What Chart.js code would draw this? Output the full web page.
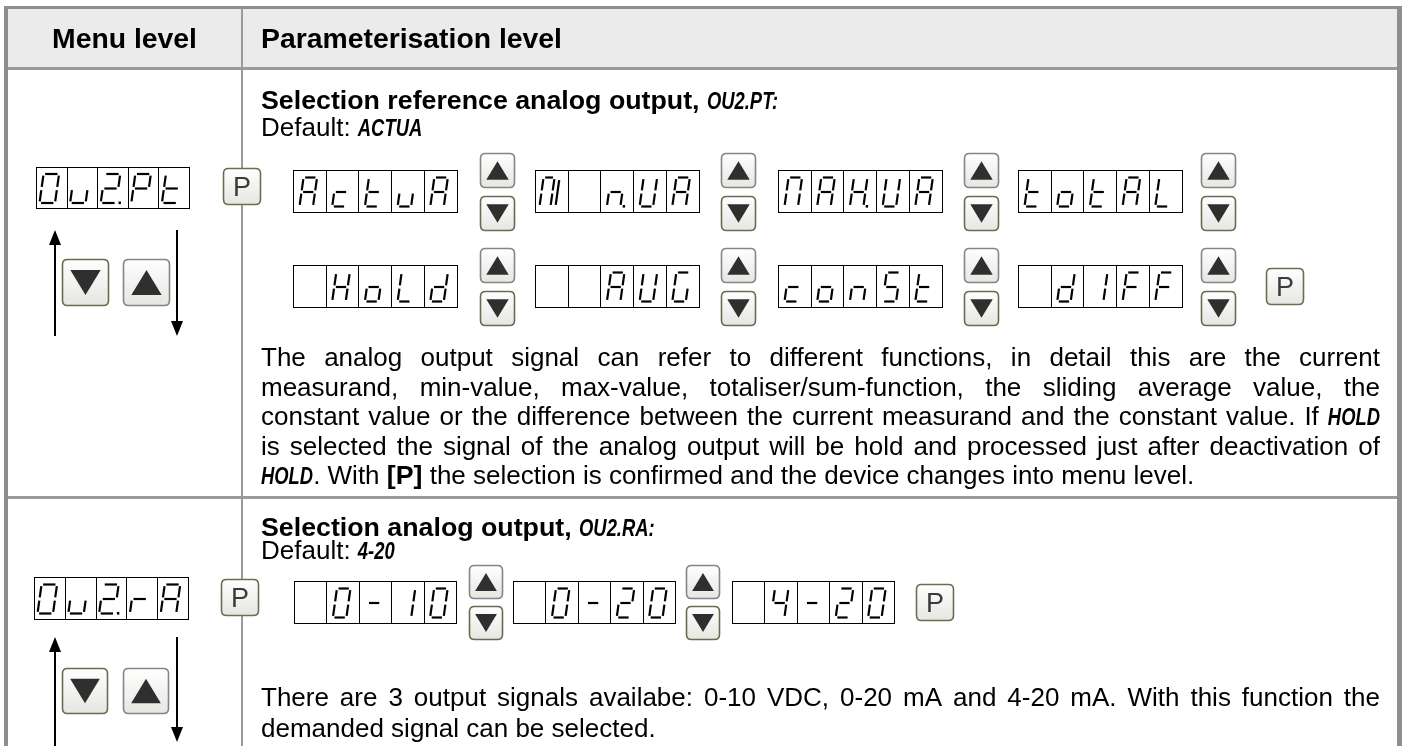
<!DOCTYPE html>
<html><head><meta charset="utf-8">
<script src="https://cdn.jsdelivr.net/npm/chart.js@4/dist/chart.umd.min.js"></script>
<style>html,body{margin:0;padding:0;background:#fff;overflow:hidden}canvas{display:block}</style>
</head><body>
<canvas id="c" width="1406" height="746"></canvas>
<script>
// ---------- content ----------
const headerLabels = ["Menu level", "Parameterisation level"];
const menuDisplays = ["0u2.Pt", "0u2.rA"];
const sectionTitles = ["{b:Selection reference analog output, }{d:OU2.PT:}", "{b:Selection analog output, }{d:OU2.RA:}"];
const defaultLines = ["Default: {d:ACTUA}", "Default: {d:4-20}"];
const refOptionsA = ["ActuA", "W n.UA", "MAH.UA", "totAL"];
const refOptionsB = [" HoLd", "  AUG", "conSt", " d1FF"];
const rangeOptions = [" 0-10", " 0-20", " 4-20"];
const para1 = [
 "The analog output signal can refer to different functions, in detail this are the current",
 "measurand, min-value, max-value, totaliser/sum-function, the sliding average value, the",
 "constant value or the difference between the current measurand and the constant value. If {d:HOLD}",
 "is selected the signal of the analog output will be hold and processed just after deactivation of",
 "{d:HOLD}. With {b:[P]} the selection is confirmed and the device changes into menu level."
];
const para2 = [
 "There are 3 output signals availabe: 0-10 VDC, 0-20 mA and 4-20 mA. With this function the",
 "demanded signal can be selected."
];
// seven-segment shapes ('W' = the "MI" cell: Π plus an extra stroke)
const SEG = {'0':'abcdef','O':'abcdef','1':'bc','2':'abged','4':'bcfg','u':'cde','U':'bcdef','P':'abefg',
 't':'defg','A':'abcefg','c':'deg','M':'abcef','W':'abcefi','n':'ceg','H':'bcefg','o':'cdeg','L':'def',
 'd':'bcdeg','G':'acdef','S':'acdfg','F':'aefg','r':'eg','-':'g',' ':''};

// ---------- style ----------
const FONT = {
  h: `bold 27px "Liberation Sans", Arial, sans-serif`,
  r: `26px "Liberation Sans", Arial, sans-serif`,
  b: `bold 25px "Liberation Sans", Arial, sans-serif`,
  d: `italic bold 23px "Liberation Sans Narrow", "Liberation Sans", sans-serif`
};
const SCALE = {h: 1.05, r: 1.0, b: 1.07, d: 0.8};

function tokenize(src) {
  const toks = []; const re = /\{(\w):([^}]*)\}/g; let last = 0, m;
  const push = (s, t) => t.split(/( )/).forEach(p => { if (p === '') return; toks.push({s, t:p, sp: p === ' '}); });
  while ((m = re.exec(src))) { if (m.index > last) push('r', src.slice(last, m.index)); push(m[1], m[2]); last = re.lastIndex; }
  if (last < src.length) push('r', src.slice(last));
  return toks;
}
function drawLine(ctx, src, x, base, targetW, align) {
  const toks = tokenize(src); let nat = 0, nsp = 0;
  toks.forEach(k => { const s = k.sp && k.s !== 'b' && k.s !== 'h' ? 'r' : k.s; k.fs = s; ctx.font = FONT[s]; k.w = ctx.measureText(k.t).width * SCALE[s]; nat += k.w; if (k.sp) nsp++; });
  let extra = 0; if (targetW && nsp) extra = (targetW - nat) / nsp;
  let cx = align === 'center' ? x - nat / 2 : x;
  ctx.fillStyle = '#000'; ctx.textBaseline = 'alphabetic'; ctx.textAlign = 'left';
  toks.forEach(k => {
    if (!k.sp) { ctx.save(); ctx.font = FONT[k.fs]; ctx.translate(cx, base); ctx.scale(SCALE[k.fs], 1); ctx.fillText(k.t, 0, 0); ctx.restore(); }
    cx += k.w + (k.sp ? extra : 0);
  });
}
function rrect(ctx, x, y, w, h, r) {
  ctx.beginPath(); ctx.moveTo(x + r, y); ctx.lineTo(x + w - r, y); ctx.quadraticCurveTo(x + w, y, x + w, y + r);
  ctx.lineTo(x + w, y + h - r); ctx.quadraticCurveTo(x + w, y + h, x + w - r, y + h); ctx.lineTo(x + r, y + h);
  ctx.quadraticCurveTo(x, y + h, x, y + h - r); ctx.lineTo(x, y + r); ctx.quadraticCurveTo(x, y, x + r, y); ctx.closePath();
}
function keyBox(ctx, x, y, w, h, border) {
  const g = ctx.createLinearGradient(0, y, 0, y + h); g.addColorStop(0, '#ffffff'); g.addColorStop(1, '#e6e6e2');
  rrect(ctx, x + 0.5, y + 0.5, w, h, 5); ctx.fillStyle = g; ctx.fill(); ctx.lineWidth = 1.6; ctx.strokeStyle = border; ctx.stroke();
}
function pKey(ctx, x, y) {
  keyBox(ctx, x, y, 37, 36, '#6f6c52');
  ctx.save(); ctx.font = '27px "Liberation Sans", Arial, sans-serif'; ctx.fillStyle = '#3a3a3a'; ctx.textAlign = 'center'; ctx.textBaseline = 'alphabetic';
  ctx.fillText('P', x + 19, y + 28); ctx.restore();
}
function arrowKey(ctx, x, y, up, s) {
  keyBox(ctx, x, y, s, s, up ? '#858585' : '#6c6a4f');
  const cx = x + s / 2 + 0.5, cy = y + s / 2 + 0.5, hw = s * 0.33, hh = s * 0.27;
  ctx.beginPath();
  if (up) { ctx.moveTo(cx - hw, cy + hh); ctx.lineTo(cx + hw, cy + hh); ctx.lineTo(cx, cy - hh); }
  else { ctx.moveTo(cx - hw, cy - hh); ctx.lineTo(cx + hw, cy - hh); ctx.lineTo(cx, cy + hh); }
  ctx.closePath(); ctx.fillStyle = '#2f2f2f'; ctx.fill();
}
function cellsOf(str) { const c = []; for (const ch of str) { if (ch === '.') c[c.length - 1].dot = true; else c.push({ch, dot:false}); } return c; }
function drawDisplay(ctx, x, y, str, cw, h, big) {
  const cells = cellsOf(str);
  ctx.lineWidth = 1; ctx.strokeStyle = '#000';
  ctx.strokeRect(Math.round(x) + 0.5, Math.round(y) + 0.5, Math.round(cw * cells.length), h);
  for (let i = 1; i < cells.length; i++) { const lx = Math.round(x + i * cw) + 0.5; ctx.beginPath(); ctx.moveTo(lx, y); ctx.lineTo(lx, y + h); ctx.stroke(); }
  cells.forEach((c, i) => glyph(ctx, x + i * cw, y, cw, h, c.ch, c.dot, big));
}
function glyph(ctx, cx, cy, cw, ch, chr, dot, big) {
  const segs = SEG[chr] || ''; const g = 1.6, sl = 0.14, gh = 29;
  let gw = big ? 15.5 : 13.5, off = big ? 3.5 : 6.5;
  if (chr === 'W') { gw = 11; off = 4.5; }
  const ox = cx + off, oy = cy + (ch - gh) / 2 + 1;
  const P = (px, py) => [ox + px + (gh - py) * sl, oy + py];
  const L = {a:[[g,0],[gw-g,0]], b:[[gw,g],[gw,gh/2-g]], c:[[gw,gh/2+g],[gw,gh-g]], d:[[g,gh],[gw-g,gh]],
    e:[[0,gh/2+g],[0,gh-g]], f:[[0,g],[0,gh/2-g]], g:[[g,gh/2],[gw-g,gh/2]], i:[[gw+5,g+1],[gw+5,gh-g]]};
  ctx.strokeStyle = '#000'; ctx.lineWidth = 2.2; ctx.lineCap = 'butt';
  for (const s of segs) { const [p, q] = L[s]; const A = P(p[0], p[1]), B = P(q[0], q[1]); ctx.beginPath(); ctx.moveTo(A[0], A[1]); ctx.lineTo(B[0], B[1]); ctx.stroke(); }
  if (dot) { const D = P(gw + 3.5, gh); ctx.fillStyle = '#000'; ctx.fillRect(D[0] - 1.2, D[1] - 1.5, 2.4, 2.6); }
}
function vArrow(ctx, x, y1, y2, up) {
  ctx.strokeStyle = '#000'; ctx.lineWidth = 2; ctx.beginPath();
  if (up) { ctx.moveTo(x, y2); ctx.lineTo(x, y1 + 12); } else { ctx.moveTo(x, y1); ctx.lineTo(x, y2 - 12); }
  ctx.stroke(); ctx.beginPath(); ctx.fillStyle = '#000';
  if (up) { ctx.moveTo(x, y1); ctx.lineTo(x - 6, y1 + 15); ctx.lineTo(x + 6, y1 + 15); }
  else { ctx.moveTo(x, y2); ctx.lineTo(x - 6, y2 - 15); ctx.lineTo(x + 6, y2 - 15); }
  ctx.closePath(); ctx.fill();
}

function drawDoc(ch) {
  const ctx = ch.ctx;
  const X = v => ch.scales.x.getPixelForValue(v), Y = v => ch.scales.y.getPixelForValue(v);
  ctx.save();
  ctx.fillStyle = '#fff'; ctx.fillRect(0, 0, 1406, 746);
  ctx.fillStyle = '#ebebeb'; ctx.fillRect(X(8), Y(9), X(1397) - X(8), Y(67) - Y(9));
  ctx.fillStyle = '#8e8e8e';
  ctx.fillRect(X(4), Y(6), X(1402) - X(4), 3);
  ctx.fillRect(X(4), Y(6), 4, Y(746) - Y(6));
  ctx.fillRect(X(1397), Y(6), 5, Y(746) - Y(6));
  ctx.fillStyle = '#9a9a9a';
  ctx.fillRect(X(8), Y(67), X(1397) - X(8), 3);
  ctx.fillRect(X(241), Y(9), 2, Y(746) - Y(9));
  ctx.fillRect(X(8), Y(496), X(1397) - X(8), 3);

  // header
  drawLine(ctx, '{h:' + headerLabels[0] + '}', X(124.5), Y(48), null, 'center');
  drawLine(ctx, '{h:' + headerLabels[1] + '}', X(261), Y(48), null);

  const CW = 32.7, DH = 42, TX = 261, TW = 1119;
  // ---- row 1 ----
  drawLine(ctx, sectionTitles[0], X(TX), Y(109), null);
  drawLine(ctx, defaultLines[0], X(TX), Y(136), null);
  drawDisplay(ctx, X(36), Y(167), menuDisplays[0], 30.6, 41, true);
  pKey(ctx, X(223), Y(168));
  vArrow(ctx, X(55), Y(230), Y(336), true);
  arrowKey(ctx, X(62), Y(259), false, 46);
  arrowKey(ctx, X(123), Y(259), true, 46);
  vArrow(ctx, X(177), Y(230), Y(336), false);
  const colX = [293, 535, 778, 1018], keyX = [480, 721, 964, 1201];
  refOptionsA.forEach((s, i) => { drawDisplay(ctx, X(colX[i]), Y(170), s, CW, DH); arrowKey(ctx, X(keyX[i]), Y(153), true, 34); arrowKey(ctx, X(keyX[i]), Y(196), false, 34); });
  refOptionsB.forEach((s, i) => { drawDisplay(ctx, X(colX[i]), Y(265), s, CW, DH); arrowKey(ctx, X(keyX[i]), Y(248), true, 34); arrowKey(ctx, X(keyX[i]), Y(291), false, 34); });
  pKey(ctx, X(1266), Y(268));
  para1.forEach((l, i) => drawLine(ctx, l, X(TX), Y(366 + i * 29.5), i < para1.length - 1 ? TW : null));

  // ---- row 2 ----
  drawLine(ctx, sectionTitles[1], X(TX), Y(536), null);
  drawLine(ctx, defaultLines[1], X(TX), Y(559), null);
  drawDisplay(ctx, X(34), Y(577), menuDisplays[1], 30.8, 42, true);
  pKey(ctx, X(221), Y(579));
  vArrow(ctx, X(55), Y(637), Y(760), true);
  arrowKey(ctx, X(62), Y(668), false, 45);
  arrowKey(ctx, X(123), Y(668), true, 45);
  vArrow(ctx, X(177), Y(637), Y(742), false);
  const rX = [294, 513, 732], rKeyX = [469, 686];
  rangeOptions.forEach((s, i) => {
    drawDisplay(ctx, X(rX[i]), Y(581), s, 32.4, 42);
    if (i < rKeyX.length) { arrowKey(ctx, X(rKeyX[i]), Y(565), true, 33); arrowKey(ctx, X(rKeyX[i]), Y(606), false, 33); }
  });
  pKey(ctx, X(916), Y(584));
  para2.forEach((l, i) => drawLine(ctx, l, X(TX), Y(706 + i * 31), i < para2.length - 1 ? TW : null));
  ctx.restore();
}

new Chart(document.getElementById('c'), {
  type: 'scatter',
  data: { datasets: [{ data: [] }] },
  options: {
    responsive: false, animation: false, devicePixelRatio: 1,
    layout: { padding: 0 },
    plugins: { legend: { display: false }, tooltip: { enabled: false } },
    scales: {
      x: { type: 'linear', min: 0, max: 1406, display: false },
      y: { type: 'linear', min: 0, max: 746, reverse: true, display: false }
    }
  },
  plugins: [{ id: 'doc', afterDraw(ch) { drawDoc(ch); } }]
});
</script>
</body></html>
